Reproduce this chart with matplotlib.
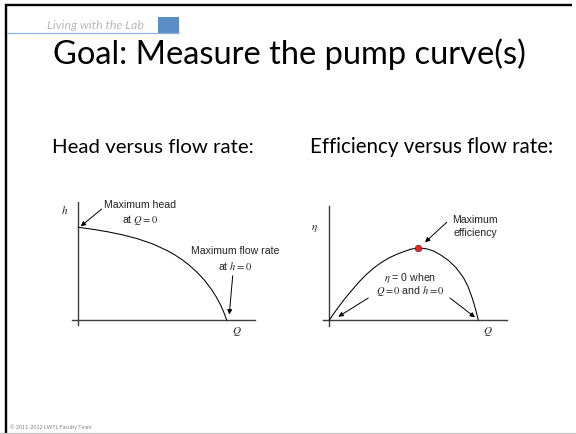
import matplotlib
matplotlib.use("Agg")
import matplotlib.pyplot as plt
from matplotlib.patches import Rectangle

# ---------------- data (normalised units) ----------------
head_Q = [0.0, 0.10, 0.20, 0.30, 0.40, 0.50, 0.60, 0.65, 0.70, 0.75, 0.80, 0.85, 0.90,
          0.93, 0.96, 0.98, 1.0]
head_h = [1.0, 0.978, 0.951, 0.918, 0.876, 0.822, 0.748, 0.703, 0.650, 0.588, 0.515, 0.430,
          0.325, 0.248, 0.158, 0.085, 0.0]

eff_Q = [0.0, 0.03, 0.06, 0.10, 0.15, 0.20, 0.25, 0.30, 0.35, 0.40, 0.45, 0.50, 0.55,
         0.60, 0.65, 0.70, 0.75, 0.80, 0.85, 0.90, 0.93, 0.96, 0.98, 1.0]
eff_eta = [0.0, 0.09, 0.175, 0.285, 0.41, 0.53, 0.635, 0.725, 0.80, 0.862, 0.91, 0.95, 0.985,
           1.0, 0.99, 0.958, 0.90, 0.826, 0.728, 0.59, 0.47, 0.30, 0.16, 0.0]

peak_Q = [0.593]
peak_eta = [1.0]

title = "Goal: Measure the pump curve(s)"
sub_left = "Head versus flow rate:"
sub_right = "Efficiency versus flow rate:"
header = "Living with the Lab"
footer = "\u00a9 2011-2012 LWTL Faculty Team"

# ---------------- figure ----------------
W, H, DPI = 576, 435, 100
plt.rcParams["mathtext.fontset"] = "stix"
fig = plt.figure(figsize=(W / DPI, H / DPI), dpi=DPI)
fig.patch.set_facecolor("white")

bg = fig.add_axes([0, 0, 1, 1])
bg.set_xlim(0, W)
bg.set_ylim(H, 0)
bg.axis("off")
renderer = fig.canvas.get_renderer()

PX = 72.0 / DPI  # points per pixel


def fit_text(x0, x1, y, s, size, **kw):
    t = bg.text(x0, y, s, fontsize=size, ha="left", va="baseline", **kw)
    w = t.get_window_extent(renderer).width
    t.set_fontsize(size * (x1 - x0) / w)
    return t


# slide frame
bg.plot([5, 572], [6.2, 6.2], color="black", lw=2.4 * PX, solid_capstyle="butt")
bg.plot([6.2, 6.2], [5, 435], color="black", lw=2.4 * PX, solid_capstyle="butt")
bg.plot([0, W], [433.8, 433.8], color="#c8c8c8", lw=1.2 * PX)

# header
bg.plot([7, 179], [34.3, 34.3], color="#8db3e2", lw=1.2 * PX)
bg.add_patch(Rectangle((157.7, 17.7), 21.3, 16.6, color="#5b8ec6", lw=0))
fit_text(46.7, 144, 29.3, header, 7, family="Lato", style="italic", color="#b8b8b8")

# titles
fit_text(53, 527, 63.5, title, 20, family="Lato", color="black")
fit_text(51.7, 253.3, 152.7, sub_left, 10, family="Lato", color="black")
fit_text(310, 553.3, 152.7, sub_right, 10, family="Lato", color="black")
fit_text(10, 91, 429.3, footer, 4, family="Lato", color="#808080")


# ---------------- chart axes ----------------
def make_axes(L, T, R, B, x0, y0, sx, sy):
    ax = fig.add_axes([L / W, 1 - B / H, (R - L) / W, (B - T) / H])
    ax.set_xlim((L - x0) / sx, (R - x0) / sx)
    ax.set_ylim((y0 - B) / sy, (y0 - T) / sy)
    ax.axis("off")
    ax.patch.set_alpha(0)
    return ax


AX_COL = "#3c3c3c"
CUR_LW = 0.75

# left: head vs flow
x0L, y0L, sxL, syL = 78.3, 321.0, 148.4, 92.7
axL = make_axes(60, 195, 265, 340, x0L, y0L, sxL, syL)
axL.plot([0, 0], [(y0L - 325.7) / syL, (y0L - 203) / syL], color=AX_COL, lw=1.0)
axL.plot([(71.7 - x0L) / sxL, (255 - x0L) / sxL], [0, 0], color=AX_COL, lw=1.0)
axL.plot(head_Q, head_h, color="black", lw=CUR_LW, solid_joinstyle="round")

# right: efficiency vs flow
x0R, y0R, sxR, syR = 329.3, 321.0, 149.0, 72.0
axR = make_axes(310, 195, 520, 340, x0R, y0R, sxR, syR)
axR.plot([0, 0], [(y0R - 326.7) / syR, (y0R - 206.7) / syR], color=AX_COL, lw=1.0)
axR.plot([(323.3 - x0R) / sxR, (506.7 - x0R) / sxR], [0, 0], color=AX_COL, lw=1.0)
axR.plot(eff_Q, eff_eta, color="black", lw=CUR_LW, solid_joinstyle="round")
axR.plot(peak_Q, peak_eta, "o", color="#e8262a", markersize=6.5 * PX,
         markeredgecolor="#7a1010", markeredgewidth=0.5, zorder=5)

# ---------------- labels & annotations (pixel coords) ----------------
SANS = "Liberation Sans"
FS = 7.6
lab = dict(fontsize=8, color="#222222", ha="center", va="center")
bg.text(65, 210, r"$h$", **lab)
bg.text(236.7, 332, r"$Q$", **lab)
bg.text(314, 228.5, r"$\eta$", **lab)
bg.text(488.3, 332, r"$Q$", **lab)

ann = dict(fontsize=FS, family=SANS, ha="center", va="center", color="#222222")
bg.text(140, 205, "Maximum head", **ann)
bg.text(140, 220, r"at $Q = 0$", **ann)
bg.text(235, 251, "Maximum flow rate", **ann)
bg.text(235, 266, r"at $h = 0$", **ann)
bg.text(475, 220, "Maximum", **ann)
bg.text(475, 233.3, "efficiency", **ann)
bg.text(410, 277.7, r"$\eta$ = 0 when", **ann)
bg.text(410, 290.7, r"$Q = 0$ and $h = 0$", **ann)

arrow = dict(arrowstyle="-|>", lw=0.7, color="black", mutation_scale=7,
             shrinkA=0, shrinkB=0)
bg.annotate("", xy=(80.7, 227.3), xytext=(101.7, 210), arrowprops=arrow)
bg.annotate("", xy=(229.3, 315.5), xytext=(232.7, 276.7), arrowprops=arrow)
bg.annotate("", xy=(425, 243.3), xytext=(446.7, 223.3), arrowprops=arrow)
bg.annotate("", xy=(338.3, 317.7), xytext=(368.3, 299), arrowprops=arrow)
bg.annotate("", xy=(475, 318.3), xytext=(450, 299), arrowprops=arrow)

fig.savefig("out.png", dpi=DPI, facecolor="white")
